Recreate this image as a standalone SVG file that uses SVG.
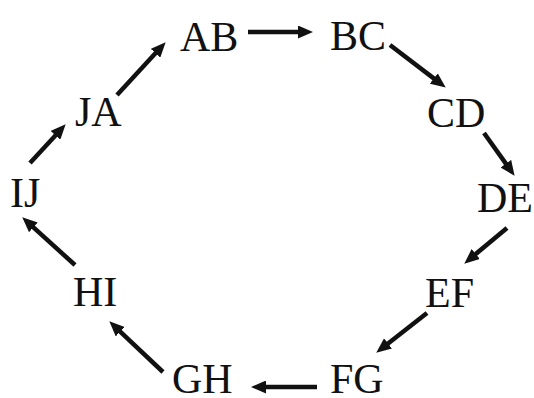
<svg xmlns="http://www.w3.org/2000/svg" width="534" height="398" viewBox="0 0 534 398">
<style>
.lbl{font-family:"Liberation Serif","Times New Roman",serif;font-size:42px;fill:#111}
.c line{stroke:#111;stroke-width:4.5;marker-end:url(#ah)}
</style>
<defs>
<marker id="ah" markerUnits="userSpaceOnUse" markerWidth="15" markerHeight="13" refX="4" refY="6.5" orient="auto">
<path d="M0,0 L15,6.5 L0,13 z" fill="#111"/>
</marker>
</defs>
<rect width="534" height="398" fill="#fff"/>
<g class="c" id="connectors">
<line x1="117" y1="95" x2="158.2" y2="50.3"/>
<line x1="248" y1="32" x2="302" y2="32"/>
<line x1="390" y1="45" x2="437" y2="80.9"/>
<line x1="484" y1="133" x2="508.2" y2="166.9"/>
<line x1="507" y1="228" x2="472.7" y2="256.6"/>
<line x1="427" y1="313" x2="384.9" y2="345.9"/>
<line x1="317" y1="387" x2="262" y2="387"/>
<line x1="163" y1="372" x2="117.3" y2="328.9"/>
<line x1="75" y1="265" x2="30.4" y2="224.7"/>
<line x1="30" y1="163" x2="58.2" y2="132.4"/>
</g>
<g id="AB"><text class="lbl" x="180" y="51">AB</text></g>
<g id="BC"><text class="lbl" x="330" y="50">BC</text></g>
<g id="CD"><text class="lbl" x="427" y="127">CD</text></g>
<g id="DE"><text class="lbl" x="477" y="212">DE</text></g>
<g id="EF"><text class="lbl" x="425" y="307">EF</text></g>
<g id="FG"><text class="lbl" x="330" y="393">FG</text></g>
<g id="GH"><text class="lbl" x="172" y="393">GH</text></g>
<g id="HI"><text class="lbl" x="73" y="306">HI</text></g>
<g id="IJ"><text class="lbl" x="10" y="207">IJ</text></g>
<g id="JA"><text class="lbl" x="75" y="126">JA</text></g>
</svg>
